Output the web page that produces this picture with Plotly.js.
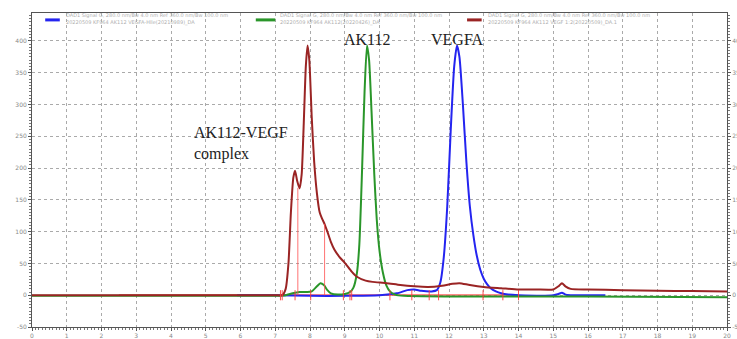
<!DOCTYPE html>
<html>
<head>
<meta charset="utf-8">
<script src="https://cdn.plot.ly/plotly-3.0.1.min.js"></script>
<style>html,body{margin:0;padding:0;background:#fff;}#chart{width:737px;height:339px;}</style>
</head>
<body>
<div id="chart"></div>
<script>
// Retention time (min) and absorbance values
const vegfaX = [5.9, 7.0, 8.0, 9.0, 10.0, 10.5, 10.8, 11.0, 11.2, 11.5, 11.65, 11.75, 11.85, 11.95, 12.05, 12.15, 12.23, 12.3, 12.4, 12.5, 12.6, 12.7, 12.8, 12.9, 13.0, 13.1, 13.2, 13.35, 13.5, 13.7, 14.0, 15.0, 15.15, 15.25, 15.35, 15.5, 16.5];
const vegfaY = [0, 0, -1, -1, 0, 3, 8, 9, 7, 6, 8, 20, 60, 140, 260, 360, 393, 375, 300, 210, 140, 95, 62, 40, 26, 17, 11, 6, 3, 1, 0, 0, 2, 4, 1, 0, 0];

const ak112X = [0, 7.0, 7.3, 7.5, 7.7, 7.9, 8.05, 8.2, 8.3, 8.4, 8.5, 8.6, 8.8, 9.0, 9.15, 9.25, 9.35, 9.42, 9.5, 9.57, 9.64, 9.7, 9.77, 9.85, 9.92, 10.0, 10.1, 10.2, 10.3, 10.45, 10.7, 12.0, 16.0, 20.0];
const ak112Y = [-1, -1, 0, 3, 5, 5, 6, 14, 19, 16, 8, 3, 1, 2, 5, 12, 35, 80, 200, 320, 393, 370, 290, 190, 120, 70, 35, 15, 6, 1, -1, -2, -2, -3];

const complexX = [0, 7.0, 7.2, 7.3, 7.38, 7.45, 7.52, 7.57, 7.63, 7.7, 7.76, 7.82, 7.88, 7.93, 7.98, 8.05, 8.12, 8.2, 8.28, 8.35, 8.42, 8.5, 8.6, 8.7, 8.85, 9.0, 9.2, 9.35, 9.6, 9.8, 10.2, 10.6, 11.0, 11.4, 11.8, 12.1, 12.3, 12.6, 13.0, 13.5, 14.0, 14.5, 15.0, 15.15, 15.25, 15.35, 15.5, 16.0, 17.0, 18.0, 19.0, 20.0];
const complexY = [0, 0, 0, 10, 50, 130, 185, 196, 180, 168, 190, 270, 360, 393, 370, 280, 210, 160, 130, 120, 112, 100, 84, 72, 60, 51, 37, 29, 23, 21, 19, 16, 14, 13, 15, 18, 19, 16, 13, 11, 9, 9, 9, 14, 19, 14, 10, 9, 8, 7, 6.5, 6];

// Integration marks (peak drop lines and peak start/end ticks)
const dropX = [7.65, 8.42];
const dropTop = [169, 112];
const tickX = [7.15, 7.2, 7.57, 8.02, 8.96, 9.15, 9.2, 10.3, 10.93, 11.43, 11.7, 12.98, 13.55, 14.0];
const baseX = [2.5, 14.0];

const seriesNames = [
  "DAD1 Signal G, 280.0 nm/Bw 4.0 nm Ref 360.0 nm/Bw 100.0 nm<br>20220509 KF964 AK112 VEGFA-Hlle(20210989)_DA",
  "DAD1 Signal G, 280.0 nm/Bw 4.0 nm Ref 360.0 nm/Bw 100.0 nm<br>20220509 KF964 AK112(20220426)_DA",
  "DAD1 Signal G, 280.0 nm/Bw 4.0 nm Ref 360.0 nm/Bw 100.0 nm<br>20220509 KF964 AK112 VEGF 1:2(20220509)_DA.1"
];
const seriesColors = ['#2424f0', '#2a962a', '#9a2424'];
const peakLabels = ["AK112-VEGF<br>complex", "AK112", "VEGFA"];
const labelX = [4.6, 9.65, 12.25];
const labelY = [238, 402, 402];

const yTicks = [-50, 0, 50, 100, 150, 200, 250, 300, 350, 400];
const xTicks = Array.from({length: 21}, (_, i) => i);

// legend layout (paper fractions)
const legendLineX0 = [0.019, 0.322, 0.626];
const legendLineX1 = [0.040, 0.350, 0.647];
const legendTextX = [0.046, 0.354, 0.653];

const dropXs = [], dropYs = [];
dropX.forEach((x, i) => { dropXs.push(x, x, null); dropYs.push(0, dropTop[i], null); });
const tickXs = [], tickYs = [];
tickX.forEach(x => { tickXs.push(x, x, null); tickYs.push(-8, 8, null); });

const traces = [
  {x: baseX, y: [0.5, 0.5], mode: 'lines', line: {color: 'rgba(255,70,70,0.85)', width: 1.5}, showlegend: false, hoverinfo: 'skip'},
  {x: vegfaX, y: vegfaY, mode: 'lines', name: seriesNames[0], line: {color: seriesColors[0], width: 2, shape: 'spline', smoothing: 0.6}, showlegend: false},
  {x: ak112X, y: ak112Y, mode: 'lines', name: seriesNames[1], line: {color: seriesColors[1], width: 2, shape: 'spline', smoothing: 0.6}, showlegend: false},
  {x: complexX, y: complexY, mode: 'lines', name: seriesNames[2], line: {color: seriesColors[2], width: 2, shape: 'spline', smoothing: 0.6}, showlegend: false},
  {x: dropXs, y: dropYs, mode: 'lines', line: {color: 'rgba(255,80,80,0.8)', width: 1}, showlegend: false, hoverinfo: 'skip'},
  {x: tickXs, y: tickYs, mode: 'lines', line: {color: 'rgba(255,60,60,0.9)', width: 1}, showlegend: false, hoverinfo: 'skip'},
  {x: [0], y: [0], mode: 'markers', yaxis: 'y2', marker: {opacity: 0}, showlegend: false, hoverinfo: 'skip'}
];

const axisFont = {family: 'DejaVu Sans, sans-serif', size: 6, color: '#888'};
const annotations = peakLabels.map((t, i) => ({
  x: labelX[i], y: labelY[i], xref: 'x', yref: 'y', text: t, showarrow: false,
  xanchor: i === 0 ? 'left' : 'center', yanchor: 'middle', align: 'left',
  font: {family: 'Liberation Serif, Times New Roman, serif', size: 16, color: '#222'}
}));
seriesNames.forEach((t, i) => annotations.push({
  x: legendTextX[i], y: 0.981, xref: 'paper', yref: 'paper', text: t, showarrow: false,
  xanchor: 'left', yanchor: 'middle', align: 'left',
  font: {family: 'DejaVu Sans, sans-serif', size: 5, color: '#b0b0b0'}
}));
const shapes = seriesColors.map((c, i) => ({
  type: 'line', xref: 'paper', yref: 'paper', x0: legendLineX0[i], x1: legendLineX1[i], y0: 0.978, y1: 0.978,
  line: {color: c, width: 3}
}));

const layout = {
  width: 737, height: 339,
  margin: {l: 32, r: 10, t: 13, b: 12, pad: 0},
  paper_bgcolor: '#fff', plot_bgcolor: '#fff',
  showlegend: false,
  xaxis: {range: [0, 20], tickvals: xTicks, ticktext: xTicks.map(String), tickfont: axisFont,
          showgrid: true, gridcolor: '#aaa', griddash: 'dot', gridwidth: 1,
          showline: true, linecolor: '#555', linewidth: 1, mirror: true,
          ticks: 'outside', ticklen: 3, tickcolor: '#555', zeroline: false,
          minor: {dtick: 0.1, ticks: 'outside', ticklen: 2, tickcolor: '#777', showgrid: false}},
  yaxis: {range: [-50, 444], tickvals: yTicks, ticktext: yTicks.map(String), tickfont: axisFont,
          showgrid: true, gridcolor: '#aaa', griddash: 'dot', gridwidth: 1,
          showline: true, linecolor: '#555', linewidth: 1, mirror: true,
          ticks: 'outside', ticklen: 3, tickcolor: '#555', zeroline: false,
          minor: {dtick: 5, ticks: 'outside', ticklen: 2, tickcolor: '#777', showgrid: false}},
  yaxis2: {range: [-50, 444], overlaying: 'y', side: 'right', tickvals: yTicks, ticktext: yTicks.map(String),
           tickfont: axisFont, showgrid: false, zeroline: false, showline: false,
           ticks: 'outside', ticklen: 3, tickcolor: '#555',
           minor: {dtick: 5, ticks: 'outside', ticklen: 2, tickcolor: '#777'}},
  annotations: annotations,
  shapes: shapes
};

Plotly.newPlot('chart', traces, layout, {staticPlot: true, displayModeBar: false});
</script>
</body>
</html>
